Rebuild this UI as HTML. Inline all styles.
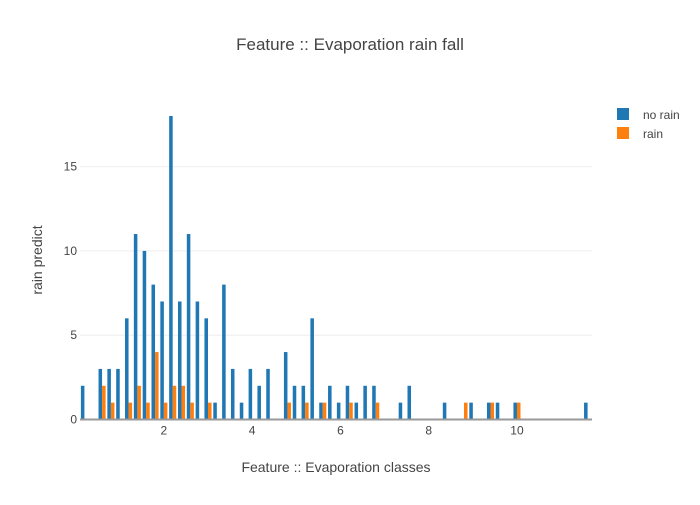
<!DOCTYPE html>
<html><head><meta charset="utf-8"><style>
body{margin:0;background:#fff;font-family:"Liberation Sans",sans-serif}
svg text{font-family:"Liberation Sans",sans-serif;fill:#444}
</style></head><body>
<svg id="chart" width="700" height="500" xmlns="http://www.w3.org/2000/svg">
<rect width="700" height="500" fill="#fff"/>
<text x="350" y="50" text-anchor="middle" font-size="17">Feature :: Evaporation rain fall</text>
<g id="grid"></g><g id="bars"></g><g id="axes"></g>
<text x="336" y="472" text-anchor="middle" font-size="14">Feature :: Evaporation classes</text>
<text transform="translate(42,260) rotate(-90)" text-anchor="middle" font-size="14">rain predict</text>
<g>
<g><rect x="617" y="108" width="12" height="12" fill="#1f77b4"/><text x="643" y="119" font-size="12">no rain</text></g>
<g><rect x="617" y="127" width="12" height="12" fill="#ff7f0e"/><text x="643" y="138" font-size="12">rain</text></g>
</g>
</svg>
<script>
const categories=[0.2,0.6,0.8,1.0,1.2,1.4,1.6,1.8,2.0,2.2,2.4,2.6,2.8,3.0,3.2,3.4,3.6,3.8,4.0,4.2,4.4,4.8,5.0,5.2,5.4,5.6,5.8,6.0,6.2,6.4,6.6,6.8,7.4,7.6,8.4,8.8,9.0,9.4,9.6,10.0,11.6];
const noRain=[2,3,3,3,6,11,10,8,7,18,7,11,7,6,1,8,3,1,3,2,3,4,2,2,6,1,2,1,2,1,2,2,1,2,1,0,1,1,1,1,1];
const rain=[0,2,1,0,1,2,1,4,1,2,2,1,0,1,0,0,0,0,0,0,0,1,0,1,0,1,0,0,1,0,0,1,0,0,0,1,0,1,0,1,0];
const yTicks=[0,5,10,15];
const xTicks=[2,4,6,8,10];
const X0=80,X1=592,Y0=419.5,Y1=100;
const xMin=0.1,xMax=11.7,yMax=18.95;
const xs=v=>X0+(v-xMin)/(xMax-xMin)*(X1-X0);
const ys=v=>Y0-v/yMax*(Y0-Y1);
const NS='http://www.w3.org/2000/svg';
function mk(t,a,p){const e=document.createElementNS(NS,t);for(const k in a)e.setAttribute(k,a[k]);p.appendChild(e);return e;}
const grid=document.getElementById('grid'),bars=document.getElementById('bars'),axes=document.getElementById('axes');
yTicks.forEach(v=>{
 if(v>0){const l=mk('line',{x1:X0,x2:X1,y1:ys(v),y2:ys(v),stroke:'#eee','stroke-width':1},grid);
 
 }
 const t=mk('text',{x:X0-3,y:ys(v)+4,'text-anchor':'end','font-size':12},axes);t.textContent=v;
 
 
});
xTicks.forEach(v=>{
 const t=mk('text',{x:xs(v),y:Y0+15,'text-anchor':'middle','font-size':12},axes);t.textContent=v;
 
 
});
const unit=(X1-X0)/(xMax-xMin),bw=0.08*unit;
categories.forEach((c,i)=>{
 const cx=xs(c);
 if(noRain[i]>0){const r=mk('rect',{x:cx-bw,y:ys(noRain[i]),width:bw,height:Y0-ys(noRain[i]),fill:'#1f77b4'},bars);
 
 }
 if(rain[i]>0){const r=mk('rect',{x:cx,y:ys(rain[i]),width:bw,height:Y0-ys(rain[i]),fill:'#ff7f0e'},bars);
 
 }
});
const ax=mk('line',{x1:X0,x2:X1,y1:Y0,y2:Y0,stroke:'#999','stroke-width':2},axes);


</script>
</body></html>
